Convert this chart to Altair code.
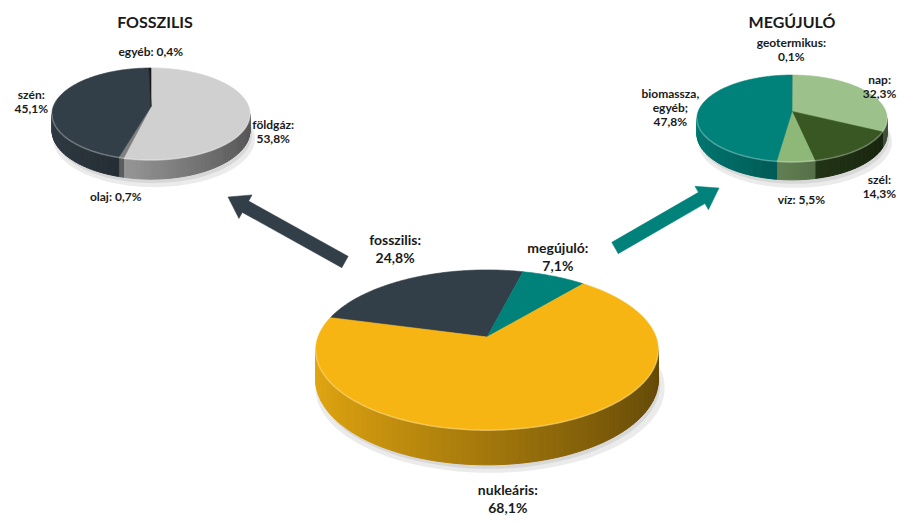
import math
import altair as alt
import pandas as pd

# ---------------- data ----------------
main_labels = ["fosszilis", "megújuló", "nukleáris"]
main_values = [24.8, 7.1, 68.1]

fossil_labels = ["földgáz", "olaj", "szén", "egyéb"]
fossil_values = [53.8, 0.7, 45.1, 0.4]

renew_labels = ["geotermikus", "nap", "szél", "víz", "biomassza, egyéb"]
renew_values = [0.1, 32.3, 14.3, 5.5, 47.8]

titles = ["FOSSZILIS", "MEGÚJULÓ"]

# ---------------- styles / layout ----------------
main_colors = ["#333F48", "#00827B", "#F6B512"]
fossil_colors = ["#D0D0D0", "#7F7F7F", "#333F48", "#1A1A1A"]
renew_colors = ["#2B2B2B", "#9DC18A", "#385723", "#8DB877", "#00827B"]

main_styles = ["stack", "stack", "stack"]
fossil_styles = ["stack", "inline", "stack", "inline"]
renew_styles = ["stack", "stack", "stack", "inline", "stack"]

PIES = [
    dict(name="main", labels=main_labels, values=main_values, colors=main_colors,
         styles=main_styles, cx=487, cy=337, B=169, A=78, k=0.163, D=29, start=285,
         fs=14, lh=18, cls="main",
         nudge={"fosszilis": (3, 6), "megújuló": (-13, 14), "nukleáris": (-50, 8)}),
    dict(name="fossil", labels=fossil_labels, values=fossil_values, colors=fossil_colors,
         styles=fossil_styles, cx=151, cy=106.5, B=97.7, A=44.8, k=0.163, D=16, start=0,
         fs=12, lh=13.5, cls="small",
         nudge={"földgáz": (-8, 0), "szén": (-2, 4), "egyéb": (1, -2)}),
    dict(name="renew", labels=renew_labels, values=renew_values, colors=renew_colors,
         styles=renew_styles, cx=792, cy=111.4, B=93.8, A=42.3, k=0.163, D=15, start=0,
         fs=12, lh=14.5, cls="small",
         nudge={"geotermikus": (-1, -3), "nap": (-9, 10), "szél": (5, -1),
                "víz": (5, 5), "biomassza, egyéb": (8, 3)}),
]

TITLE_POS = [(155, 23), (792, 23)]
ARROWS = [dict(start=(345, 262), tip=(228, 197), color="#333F48"),
          dict(start=(615, 248), tip=(719, 188), color="#00827B")]
SHAFT_HW, HEAD_HW, HEAD_LEN = 6.5, 13.5, 20
TEXT_COLOR = "#1A1A1A"
FONT = "Lato"


def proj(p, theta_deg, z=0.0):
    t = math.radians(theta_deg)
    u, v = math.sin(t), -math.cos(t)
    f = 1.0 / (1.0 - p["k"] * v)
    return p["cx"] + p["B"] * u * f, p["cy"] + p["A"] * v * f + z * p["D"] * f


def shade(hexc, fac):
    r, g, b = int(hexc[1:3], 16), int(hexc[3:5], 16), int(hexc[5:7], 16)
    return "#%02x%02x%02x" % tuple(max(0, min(255, round(c * fac))) for c in (r, g, b))


def fmt(v):
    return f"{v:.1f}".replace(".", ",") + "%"


def label_lines(name, value, style):
    val = fmt(value)
    if ", " in name:
        parts = name.split(", ")
        return [q + "," for q in parts[:-1]] + [parts[-1] + ";", val]
    if style == "inline":
        return [f"{name}: {val}"]
    return [f"{name}:", val]


def steps(a, b, step):
    n = max(1, int(math.ceil((b - a) / step)))
    return [a + (b - a) * i / n for i in range(n + 1)]


rows_shadow, rows_side, rows_top, rows_rim, rows_arrow = [], [], [], [], []
text_rows = {"main": [], "small": []}


def add(rows, pid, pts, color):
    for i, (x, y) in enumerate(pts):
        rows.append({"pid": pid, "i": i, "x": round(x, 2), "y": round(y, 2), "c": color})


for p in PIES:
    total = sum(p["values"])
    vis0 = math.degrees(math.acos(-p["k"]))
    vis1 = 360 - vis0
    # soft shadow under the pie
    sh = [proj(p, t, 1.0) for t in range(0, 360, 3)]
    add(rows_shadow, p["name"] + "_s1", [(x + 2, y + 4) for x, y in sh], "#000000")
    add(rows_shadow, p["name"] + "_s2",
        [(p["cx"] + (x - p["cx"]) * 1.02 + 3, y + 8) for x, y in sh], "#000000")
    # rim highlight
    add(rows_rim, p["name"] + "_rim", [proj(p, t, 0) for t in steps(vis0, vis1, 1)], "#FFFFFF")

    a = p["start"]
    for lab, val, col, sty in zip(p["labels"], p["values"], p["colors"], p["styles"]):
        b = a + val / total * 360
        # side strips (front part only)
        for sft in (-360, 0, 360):
            lo, hi = max(a, vis0 + sft), min(b, vis1 + sft)
            if hi <= lo:
                continue
            ts = steps(lo, hi, 2)
            for s, e in zip(ts[:-1], ts[1:]):
                m = math.radians((s + e) / 2)
                c = shade(col, 0.66 - 0.26 * math.sin(m))
                pts = [proj(p, s, 0), proj(p, e, 0), proj(p, e, 1), proj(p, s, 1)]
                add(rows_side, f"{p['name']}_{lab}_{s:.2f}", pts, c)
        # top face
        pts = [(p["cx"], p["cy"])] + [proj(p, t, 0) for t in steps(a, b, 1)]
        add(rows_top, f"{p['name']}_{lab}", pts, col)
        # label (placed outside the slice, at its middle angle)
        mid = (a + b) / 2
        mr = math.radians(mid)
        u, v = math.sin(mr), -math.cos(mr)
        rx, ry = proj(p, mid, 1.0 if v > 0 else 0.0)
        lines = label_lines(lab, val, sty)
        w = max(len(s) for s in lines) * 0.48 * p["fs"]
        h = len(lines) * p["lh"]
        d = 7 + w / 2 * abs(u) + h / 2 * abs(v)
        nx, ny = p["nudge"].get(lab, (0, 0))
        first_y = ry + v * d + ny - (len(lines) - 1) * p["lh"] / 2
        text_rows[p["cls"]].append({"x": rx + u * d + nx, "y": first_y,
                                    "t": "\n".join(lines)})
        a = b

for j, ar in enumerate(ARROWS):
    (sx, sy), (tx, ty) = ar["start"], ar["tip"]
    L = math.hypot(tx - sx, ty - sy)
    dx, dy = (tx - sx) / L, (ty - sy) / L
    nx, ny = -dy, dx
    bx, by = tx - dx * HEAD_LEN, ty - dy * HEAD_LEN
    pts = [(sx + nx * SHAFT_HW, sy + ny * SHAFT_HW), (bx + nx * SHAFT_HW, by + ny * SHAFT_HW),
           (bx + nx * HEAD_HW, by + ny * HEAD_HW), (tx, ty),
           (bx - nx * HEAD_HW, by - ny * HEAD_HW), (bx - nx * SHAFT_HW, by - ny * SHAFT_HW),
           (sx - nx * SHAFT_HW, sy - ny * SHAFT_HW)]
    add(rows_arrow, f"arrow{j}", pts, ar["color"])

title_df = pd.DataFrame({"x": [q[0] for q in TITLE_POS], "y": [q[1] for q in TITLE_POS], "t": titles})

# plot area = page minus its 8px margin; scales map page pixel coordinates
W, H = 889, 507
X = alt.X("x:Q", scale=alt.Scale(domain=[8, 8 + W], nice=False, zero=False), axis=None)
Y = alt.Y("y:Q", scale=alt.Scale(domain=[8, 8 + H], nice=False, zero=False, reverse=True), axis=None)


def poly_layer(rows, **mk):
    return alt.Chart(pd.DataFrame(rows)).mark_line(interpolate="linear-closed", **mk).encode(
        x=X, y=Y, detail="pid:N", order="i:Q",
        fill=alt.Fill("c:N", scale=None), stroke=alt.Stroke("c:N", scale=None))


shadow = poly_layer(rows_shadow, opacity=0.08, strokeWidth=0)
sides = poly_layer(rows_side, strokeWidth=1)
tops = poly_layer(rows_top, strokeWidth=0.6)
arrows = poly_layer(rows_arrow, strokeWidth=0.5)
rims = alt.Chart(pd.DataFrame(rows_rim)).mark_line(strokeWidth=1.5, opacity=0.3).encode(
    x=X, y=Y, detail="pid:N", order="i:Q", stroke=alt.Stroke("c:N", scale=None))


def text_layer(df, size, lh):
    return alt.Chart(df).mark_text(font=FONT, fontWeight="bold", fontSize=size, lineBreak="\n",
                                   lineHeight=lh, align="center", baseline="middle",
                                   color=TEXT_COLOR).encode(x=X, y=Y, text="t:N")


txt_main = text_layer(pd.DataFrame(text_rows["main"]), 14, 18)
txt_small = text_layer(pd.DataFrame(text_rows["small"]), 12, 14)
txt_title = text_layer(title_df, 16, 18)

chart = alt.layer(shadow, sides, tops, rims, arrows, txt_main, txt_small, txt_title).properties(
    width=W, height=H, autosize=alt.AutoSizeParams(type="none"), padding=0,
).configure_view(stroke=None)

chart.save("out.html", embed_options={"renderer": "svg", "actions": False})
